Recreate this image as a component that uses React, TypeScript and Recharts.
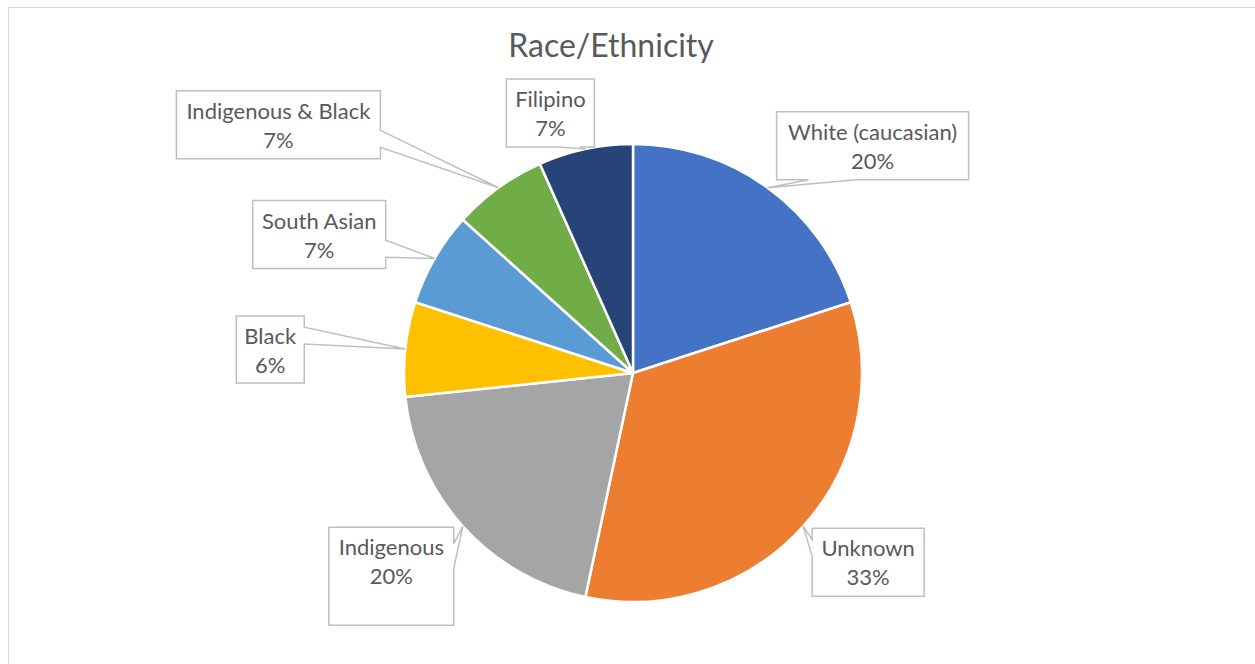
import React from 'react';
import { PieChart, Pie, Cell } from 'recharts';

const categories = [
  'White (caucasian)',
  'Unknown',
  'Indigenous',
  'Black',
  'South Asian',
  'Indigenous & Black',
  'Filipino',
];
const counts = [3, 5, 3, 1, 1, 1, 1];
const percentLabels = ['20%', '33%', '20%', '6%', '7%', '7%', '7%'];
const colors = ['#4472C4', '#ED7D31', '#A5A5A5', '#FFC000', '#5B9BD5', '#70AD47', '#264478'];

// callout box placement, relative to where the leader touches the slice edge
const callouts = [
  { dx: 9, dy: -76, w: 192, h: 68 },
  { dx: 9, dy: 2, w: 112, h: 68 },
  { dx: -134, dy: 1, w: 125, h: 98 },
  { dx: -169, dy: -33, w: 68, h: 67 },
  { dx: -182, dy: -58, w: 133, h: 68 },
  { dx: -322, dy: -97, w: 204, h: 68 },
  { dx: -79, dy: -70, w: 88, h: 68 },
];

const data = categories.map((name, i) => ({ name, value: counts[i], pct: percentLabels[i] }));

const FONT = 'Lato, "Open Sans", sans-serif';
const TEXT = '#595959';

// wedge rectangle callout, same geometry as the office shape
function calloutPath(l: number, t: number, w: number, h: number, px: number, py: number) {
  const r = l + w;
  const b = t + h;
  const hc = l + w / 2;
  const vc = t + h / 2;
  const dxPos = px - hc;
  const dyPos = py - vc;
  const dq = (dxPos * h) / w;
  const dz = Math.abs(dyPos) - Math.abs(dq);
  const x1 = l + (w * (dxPos > 0 ? 7 : 2)) / 12;
  const x2 = l + (w * (dxPos > 0 ? 10 : 5)) / 12;
  const y1 = t + (h * (dyPos > 0 ? 7 : 2)) / 12;
  const y2 = t + (h * (dyPos > 0 ? 10 : 5)) / 12;
  const pts: [number, number][] = [[l, t]];
  if (dz > 0 && dyPos < 0) pts.push([x1, t], [px, py], [x2, t]);
  pts.push([r, t]);
  if (dz <= 0 && dxPos > 0) pts.push([r, y1], [px, py], [r, y2]);
  pts.push([r, b]);
  if (dz > 0 && dyPos > 0) pts.push([x2, b], [px, py], [x1, b]);
  pts.push([l, b]);
  if (dz <= 0 && dxPos < 0) pts.push([l, y2], [px, py], [l, y1]);
  return 'M' + pts.map((p) => `${p[0]},${p[1]}`).join('L') + 'Z';
}

function renderCallout(props: any) {
  const { cx, cy, midAngle, outerRadius, index } = props;
  const RAD = Math.PI / 180;
  const tx = cx + outerRadius * Math.cos(-midAngle * RAD);
  const ty = cy + outerRadius * Math.sin(-midAngle * RAD);
  const c = callouts[index];
  const l = tx + c.dx;
  const t = ty + c.dy;
  const mid = l + c.w / 2;
  return (
    <g key={`callout-${index}`}>
      <path d={calloutPath(l, t, c.w, c.h, tx, ty)} fill="#fff" stroke="#BFBFBF" strokeWidth={1.5} />
      <text x={mid} y={t + 28} textAnchor="middle" fontFamily={FONT} fontSize={22} fill={TEXT}>
        {categories[index]}
      </text>
      <text x={mid} y={t + 57} textAnchor="middle" fontFamily={FONT} fontSize={22} fill={TEXT}>
        {percentLabels[index]}
      </text>
    </g>
  );
}

export default function App() {
  return (
    <div style={{ position: 'absolute', left: 0, top: 0, width: 1255, height: 664, overflow: 'hidden', background: '#fff' }}>
      <div
        style={{
          position: 'absolute',
          left: 8,
          top: 7,
          width: 1270,
          height: 700,
          border: '1.5px solid #D9D9D9',
        }}
      />
      <svg width={1255} height={80} style={{ position: 'absolute', left: 0, top: 0 }}>
        <text x={611} y={57} textAnchor="middle" fontFamily={FONT} fontSize={32} fill={TEXT}>
          Race/Ethnicity
        </text>
      </svg>
      <div style={{ position: 'absolute', left: 0, top: 0 }}>
        <PieChart width={1255} height={664} margin={{ top: 0, right: 0, bottom: 0, left: 0 }}>
          <Pie
            data={data}
            dataKey="value"
            nameKey="name"
            cx={633}
            cy={373}
            outerRadius={229}
            startAngle={90}
            endAngle={-270}
            stroke="#fff"
            strokeWidth={2.5}
            label={renderCallout}
            labelLine={false}
            isAnimationActive={false}
          >
            {data.map((d, i) => (
              <Cell key={d.name} fill={colors[i]} />
            ))}
          </Pie>
        </PieChart>
      </div>
    </div>
  );
}
